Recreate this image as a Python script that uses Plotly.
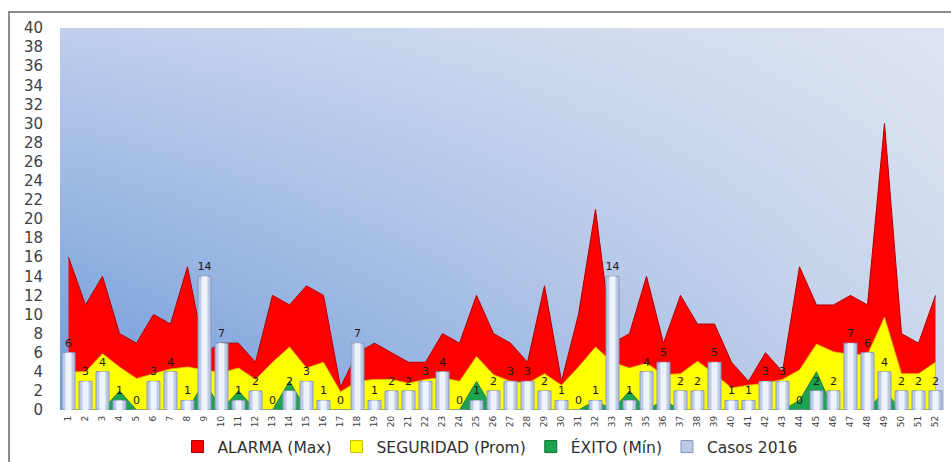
import base64
import struct
import zlib

import numpy as np
import plotly.graph_objects as go

# ---------------- data ----------------
semanas = list(range(1, 53))
semana_labels = [str(s) for s in semanas]

alarma_max = [16, 11, 14, 8, 7, 10, 9, 15, 6, 7, 7, 5, 12, 11, 13, 12, 2.4, 6, 7, 6,
              5, 5, 8, 7, 12, 8, 7, 5, 13, 3, 10, 21, 7, 8, 14, 7, 12, 9, 9, 5,
              3, 6, 4, 15, 11, 11, 12, 11, 30, 8, 7, 12]

seguridad_prom = [4.0, 4.0, 5.9, 4.5, 3.3, 3.8, 4.3, 4.5, 4.2, 3.9, 4.4, 3.2, 5.0, 6.6, 4.4, 5.0,
                  1.9, 3.0, 3.2, 3.2, 2.8, 3.2, 3.4, 3.0, 5.6, 3.7, 3.0, 2.8, 3.8, 2.6, 4.5, 6.6,
                  5.0, 4.4, 4.9, 3.7, 3.8, 5.1, 3.8, 2.3, 2.6, 2.8, 3.2, 4.2, 6.9, 6.1, 5.8, 5.8,
                  9.7, 3.8, 3.8, 5.0]

exito_min = [0, 0, 0, 2, 0, 0, 0, 0, 3, 0, 2, 0, 0, 3, 0, 0, 0, 0, 0, 0,
             0, 0, 0, 0, 3, 0, 0, 0, 0, 0, 0, 1, 0, 2, 0, 1, 0, 0, 0, 0,
             0, 0, 0, 1, 4, 0, 0, 0, 2, 0, 0, 0]

casos_2016 = [6, 3, 4, 1, 0, 3, 4, 1, 14, 7, 1, 2, 0, 2, 3, 1, 0, 7, 1, 2,
              2, 3, 4, 0, 1, 2, 3, 3, 2, 1, 0, 1, 14, 1, 4, 5, 2, 2, 5, 1,
              1, 3, 3, 0, 2, 2, 7, 6, 4, 2, 2, 2]

y_ticks = list(range(0, 41, 2))


# ---------------- background gradient (style only) ----------------
def gradient_png_uri(w, h):
    tl = np.array([192, 207, 236], float)
    tr = np.array([222, 229, 242], float)
    bl = np.array([110, 153, 217], float)
    br = np.array([202, 213, 236], float)
    u = np.linspace(0, 1, w)[None, :, None]
    v = np.linspace(0, 1, h)[:, None, None]  # 0 top -> 1 bottom
    top = tl * (1 - u) + tr * u
    bot = bl * (1 - u) + br * u
    img = (top * (1 - v) + bot * v).clip(0, 255).astype(np.uint8)
    raw = b"".join(b"\x00" + img[r].tobytes() for r in range(h))

    def chunk(t, d):
        return struct.pack(">I", len(d)) + t + d + struct.pack(">I", zlib.crc32(t + d) & 0xFFFFFFFF)

    png = (b"\x89PNG\r\n\x1a\n"
           + chunk(b"IHDR", struct.pack(">IIBBBBB", w, h, 8, 2, 0, 0, 0))
           + chunk(b"IDAT", zlib.compress(raw, 9))
           + chunk(b"IEND", b""))
    return "data:image/png;base64," + base64.b64encode(png).decode()


FONT = "DejaVu Sans"
RED, YELLOW, GREEN = "#FF0000", "#FFFF00", "#1FA24F"
W, H = 951, 462

fig = go.Figure()

# area series (back to front)
fig.add_trace(go.Scatter(x=semanas, y=alarma_max, mode="lines", fill="tozeroy",
                         fillcolor=RED, line=dict(color="#B00000", width=1),
                         showlegend=False, hoverinfo="skip"))
fig.add_trace(go.Scatter(x=semanas, y=seguridad_prom, mode="lines", fill="tozeroy",
                         fillcolor=YELLOW, line=dict(color="#CFC400", width=0.8),
                         showlegend=False, hoverinfo="skip"))
fig.add_trace(go.Scatter(x=semanas, y=exito_min, mode="lines", fill="tozeroy",
                         fillcolor=GREEN, line=dict(color="#0B7034", width=0.8),
                         showlegend=False, hoverinfo="skip"))

# legend entries (square swatches)
for nm, col, lc in [("ALARMA (Max)", RED, "#A00000"),
                    ("SEGURIDAD (Prom)", YELLOW, "#C8BE00"),
                    ("ÉXITO (Mín)", GREEN, "#0B7034")]:
    fig.add_trace(go.Bar(x=[None], y=[None], name=nm,
                         marker=dict(color=col, line=dict(color=lc, width=1))))

# bars on an overlaying subplot so they sit in front of the areas
fig.add_trace(go.Bar(x=semanas, y=casos_2016, name="Casos 2016", xaxis="x2", yaxis="y2",
                     width=0.76,
                     marker=dict(color="#BCCAE5", line=dict(color="#8496BE", width=1)),
                     text=[str(v) for v in casos_2016], textposition="outside",
                     textfont=dict(family=FONT, size=11, color="#1a1a1a"),
                     constraintext="none", cliponaxis=False))
# lighter centre of each bar (cylinder highlight)
fig.add_trace(go.Bar(x=semanas, y=casos_2016, xaxis="x2", yaxis="y2", width=0.36,
                     marker=dict(color="#EEF2FA", line=dict(width=0)),
                     showlegend=False, hoverinfo="skip"))

fig.update_layout(
    width=W, height=H, autosize=False,
    margin=dict(l=60, r=7, t=28, b=52, autoexpand=False),
    paper_bgcolor="white",
    plot_bgcolor="rgba(0,0,0,0)",
    barmode="overlay",
    font=dict(family=FONT, color="#404040"),
    xaxis=dict(range=[0.5, 52.5], tickmode="array", tickvals=semanas, ticktext=semana_labels,
               tickangle=-90, tickfont=dict(family=FONT, size=9, color="#404040"),
               showgrid=False, zeroline=False, showline=False, ticks="",
               ticklabelstandoff=3),
    yaxis=dict(range=[0, 40], tickmode="array", tickvals=y_ticks,
               ticktext=[str(t) for t in y_ticks],
               tickfont=dict(family=FONT, size=15, color="#404040"),
               showgrid=False, zeroline=False, showline=False, ticks="",
               ticklabelstandoff=16),
    xaxis2=dict(overlaying="x", matches="x", anchor="y2", visible=False),
    yaxis2=dict(overlaying="y", matches="y", anchor="x2", visible=False),
    legend=dict(orientation="h", xref="container", yref="container",
                x=490 / W, xanchor="center", y=1 - 447 / H, yanchor="middle",
                font=dict(family=FONT, size=15.5, color="#303030"),
                bgcolor="rgba(0,0,0,0)", itemwidth=30, traceorder="normal"),
    images=[dict(source=gradient_png_uri(160, 80), xref="paper", yref="paper",
                 x=0, y=1, sizex=1, sizey=1, sizing="stretch",
                 xanchor="left", yanchor="top", layer="below")],
    shapes=[dict(type="rect", xref="paper", yref="paper",
                 x0=-51 / 884, x1=1.06, y0=-0.25, y1=(410 - 12) / 382,
                 line=dict(color="#8C8C8C", width=2), fillcolor="rgba(0,0,0,0)")],
)

fig.write_html("out.html", config={"displayModeBar": False},
               post_script="document.body.style.margin='0px';document.body.style.padding='0px';")
